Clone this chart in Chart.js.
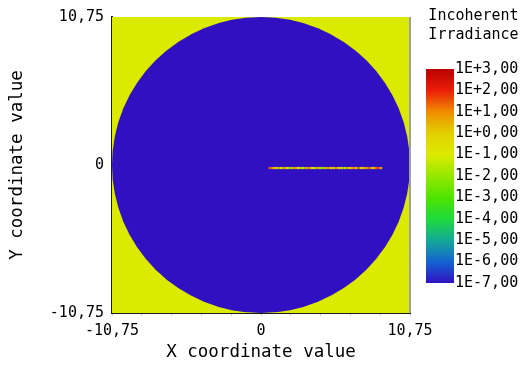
<!DOCTYPE html>
<html>
<head>
<meta charset="utf-8">
<script src="https://cdn.jsdelivr.net/npm/chart.js@4/dist/chart.umd.min.js"></script>
<style>
  html, body { margin: 0; padding: 0; background: #fff; }
  #wrap { position: relative; width: 521px; height: 365px; }
  #main { position: absolute; left: 0; top: 0; }
  #cbar { position: absolute; left: 420px; top: 0; }
</style>
</head>
<body>
<div id="wrap">
  <canvas id="main" width="521" height="365"></canvas>
  <canvas id="cbar" width="101" height="365"></canvas>
</div>
<script>
// Detector extent (half width) and the circular aperture radius
const halfExtent = 10.75;
const apertureRadius = 10.75;

// Tick positions along the axes
const xTickValues = [-10.75, -8.6, -6.45, -4.3, -2.15, 0, 2.15, 4.3, 6.45, 8.6, 10.75];
const xLabelValues = [-10.75, 0, 10.75];
const yTickValues = [-10.75, 0, 10.75];

// Irradiance levels (log10) shown on the colour bar
const colorbarLevels = [3, 2, 1, 0, -1, -2, -3, -4, -5, -6, -7];

// Irradiance level of the field outside the aperture and inside it (log10)
const outsideLevel = -1;
const insideLevel = -7;

// Illuminated slit: x positions and log10 irradiance along it
const slitY = -0.22;
const slitX = [0.55, 0.75, 0.95, 1.15, 1.35, 1.55, 1.75, 1.95, 2.15, 2.35, 2.55, 2.75, 2.95, 3.15,
               3.35, 3.55, 3.75, 3.95, 4.15, 4.35, 4.55, 4.75, 4.95, 5.15, 5.35, 5.55, 5.75, 5.95,
               6.15, 6.35, 6.55, 6.75, 6.95, 7.15, 7.35, 7.55, 7.75, 7.95, 8.15, 8.35, 8.55, 8.75];
const slitLog = [1.4, 0.8, -0.4, 0.3, -1.2, 0.6, -0.6, -2.0, 0.2, 0.7, -1.0, 0.1, -1.6, 0.4,
                 0.9, -0.3, -1.3, 0.5, -0.2, -2.2, 0.3, 0.8, -0.8, 0.2, 1.0, -1.1, 0.0, -1.8,
                 0.6, -0.5, 0.9, 0.1, 1.3, -0.7, 0.4, 0.8, 1.2, -0.2, 1.0, 1.6, 0.7, 1.9];

// Colour map (log10 irradiance -> colour)
const colorStops = [
  [3, [185, 0, 0]],
  [2, [235, 30, 10]],
  [1, [240, 140, 0]],
  [0, [226, 208, 0]],
  [-1, [220, 234, 0]],
  [-2, [150, 232, 0]],
  [-3, [80, 228, 0]],
  [-4, [30, 218, 60]],
  [-5, [20, 170, 150]],
  [-6, [20, 100, 210]],
  [-7, [48, 16, 192]]
];

function colorFor(v) {
  if (v >= colorStops[0][0]) return rgb(colorStops[0][1]);
  for (let i = 0; i < colorStops.length - 1; i++) {
    const [v0, c0] = colorStops[i];
    const [v1, c1] = colorStops[i + 1];
    if (v <= v0 && v >= v1) {
      const t = (v0 - v) / (v0 - v1);
      return rgb(c0.map((c, k) => c + (c1[k] - c) * t));
    }
  }
  return rgb(colorStops[colorStops.length - 1][1]);
}
function rgb(c) { return `rgb(${c.map(Math.round).join(',')})`; }

const MONO = '"DejaVu Sans Mono", "Liberation Mono", monospace';
const fmt = v => (v === 0 ? '0' : v.toFixed(2).replace('.', ','));

// Field map: uniform background with a circular aperture, drawn through the scales
const fieldMap = {
  id: 'fieldMap',
  beforeDatasetsDraw(chart) {
    const { ctx, chartArea: a, scales: { x, y } } = chart;
    ctx.save();
    ctx.fillStyle = colorFor(outsideLevel);
    ctx.fillRect(a.left, a.top, a.right - a.left, a.bottom - a.top);
    const cx = x.getPixelForValue(0), cy = y.getPixelForValue(0);
    const rx = x.getPixelForValue(apertureRadius) - cx;
    const ry = cy - y.getPixelForValue(apertureRadius);
    ctx.fillStyle = colorFor(insideLevel);
    ctx.beginPath();
    ctx.ellipse(cx, cy, rx, ry, 0, 0, Math.PI * 2);
    ctx.fill();
    ctx.restore();
  },
  afterDraw(chart) {
    const { ctx, chartArea: a } = chart;
    ctx.save();
    ctx.strokeStyle = '#a0a0a0';
    ctx.lineWidth = 2;
    ctx.beginPath();
    ctx.moveTo(a.right, a.top);
    ctx.lineTo(a.right, a.bottom);
    ctx.stroke();
    ctx.restore();
  }
};

new Chart(document.getElementById('main'), {
  type: 'scatter',
  data: {
    datasets: [{
      data: slitX.map(x => ({ x, y: slitY })),
      showLine: true,
      borderWidth: 2.2,
      pointRadius: 0,
      segment: { borderColor: c => colorFor(slitLog[c.p0DataIndex]) },
      borderColor: colorFor(slitLog[0])
    }]
  },
  options: {
    responsive: false,
    animation: false,
    events: [],
    layout: { padding: { left: 7, right: 111, top: 14, bottom: 0 } },
    plugins: { legend: { display: false }, tooltip: { enabled: false } },
    scales: {
      x: {
        type: 'linear', min: -halfExtent, max: halfExtent,
        afterBuildTicks: s => { s.ticks = xTickValues.map(value => ({ value })); },
        afterFit: s => { s.height = 52; },
        ticks: {
          autoSkip: false, maxRotation: 0, padding: 6, color: '#000',
          font: { family: MONO, size: 15 },
          callback: v => (xLabelValues.includes(v) ? fmt(v) : '')
        },
        grid: { display: true, drawOnChartArea: false, drawTicks: true, tickLength: 3, color: '#d0d0d0' },
        border: { display: true, color: '#1a1a1a', width: 2 },
        title: { display: true, text: 'X coordinate value', color: '#000',
                 font: { family: MONO, size: 17.5 }, padding: { top: 0, bottom: 2 } }
      },
      y: {
        type: 'linear', min: -halfExtent, max: halfExtent,
        afterBuildTicks: s => { s.ticks = yTickValues.map(value => ({ value })); },
        afterFit: s => { s.width = 105; },
        ticks: { autoSkip: false, padding: 8, color: '#000',
                 font: { family: MONO, size: 15 }, callback: v => fmt(v) },
        grid: { display: false, drawTicks: false },
        border: { display: true, color: '#1a1a1a', width: 2 },
        title: { display: true, text: 'Y coordinate value', color: '#000',
                 font: { family: MONO, size: 17.5 }, padding: { top: 0, bottom: 0 } }
      }
    }
  },
  plugins: [fieldMap]
});

// Colour bar
new Chart(document.getElementById('cbar'), {
  type: 'bar',
  data: {
    labels: ['Incoherent Irradiance'],
    datasets: [{
      data: [[colorbarLevels[colorbarLevels.length - 1], colorbarLevels[0]]],
      barPercentage: 1, categoryPercentage: 1, borderWidth: 0,
      backgroundColor: c => {
        const ch = c.chart, ys = ch.scales.y;
        if (!ch.chartArea || !ys) return colorFor(0);
        const top = ys.getPixelForValue(colorbarLevels[0]);
        const bot = ys.getPixelForValue(colorbarLevels[colorbarLevels.length - 1]);
        const g = ch.ctx.createLinearGradient(0, top, 0, bot);
        colorStops.forEach(([v, col]) => {
          g.addColorStop((colorbarLevels[0] - v) / (colorbarLevels[0] - colorbarLevels[colorbarLevels.length - 1]), rgb(col));
        });
        return g;
      }
    }]
  },
  options: {
    responsive: false,
    animation: false,
    events: [],
    layout: { padding: { left: 6, right: 0, top: 6, bottom: 82 } },
    plugins: {
      legend: { display: false }, tooltip: { enabled: false },
      title: { display: true, text: ['Incoherent', 'Irradiance'], color: '#000',
               font: { family: MONO, size: 15, weight: 'normal', lineHeight: 1.3 },
               padding: { top: 0, bottom: 24 } }
    },
    scales: {
      x: { display: false },
      y: {
        position: 'right', min: -7, max: 3,
        afterBuildTicks: s => { s.ticks = colorbarLevels.map(value => ({ value })); },
        afterFit: s => { s.width = 67; },
        ticks: { autoSkip: false, padding: 1, color: '#000', font: { family: MONO, size: 15 },
                 callback: v => '1E' + (v >= 0 ? '+' : '-') + Math.abs(v) + ',00' },
        grid: { display: false, drawTicks: false },
        border: { display: false }
      }
    }
  }
});
</script>
</body>
</html>
